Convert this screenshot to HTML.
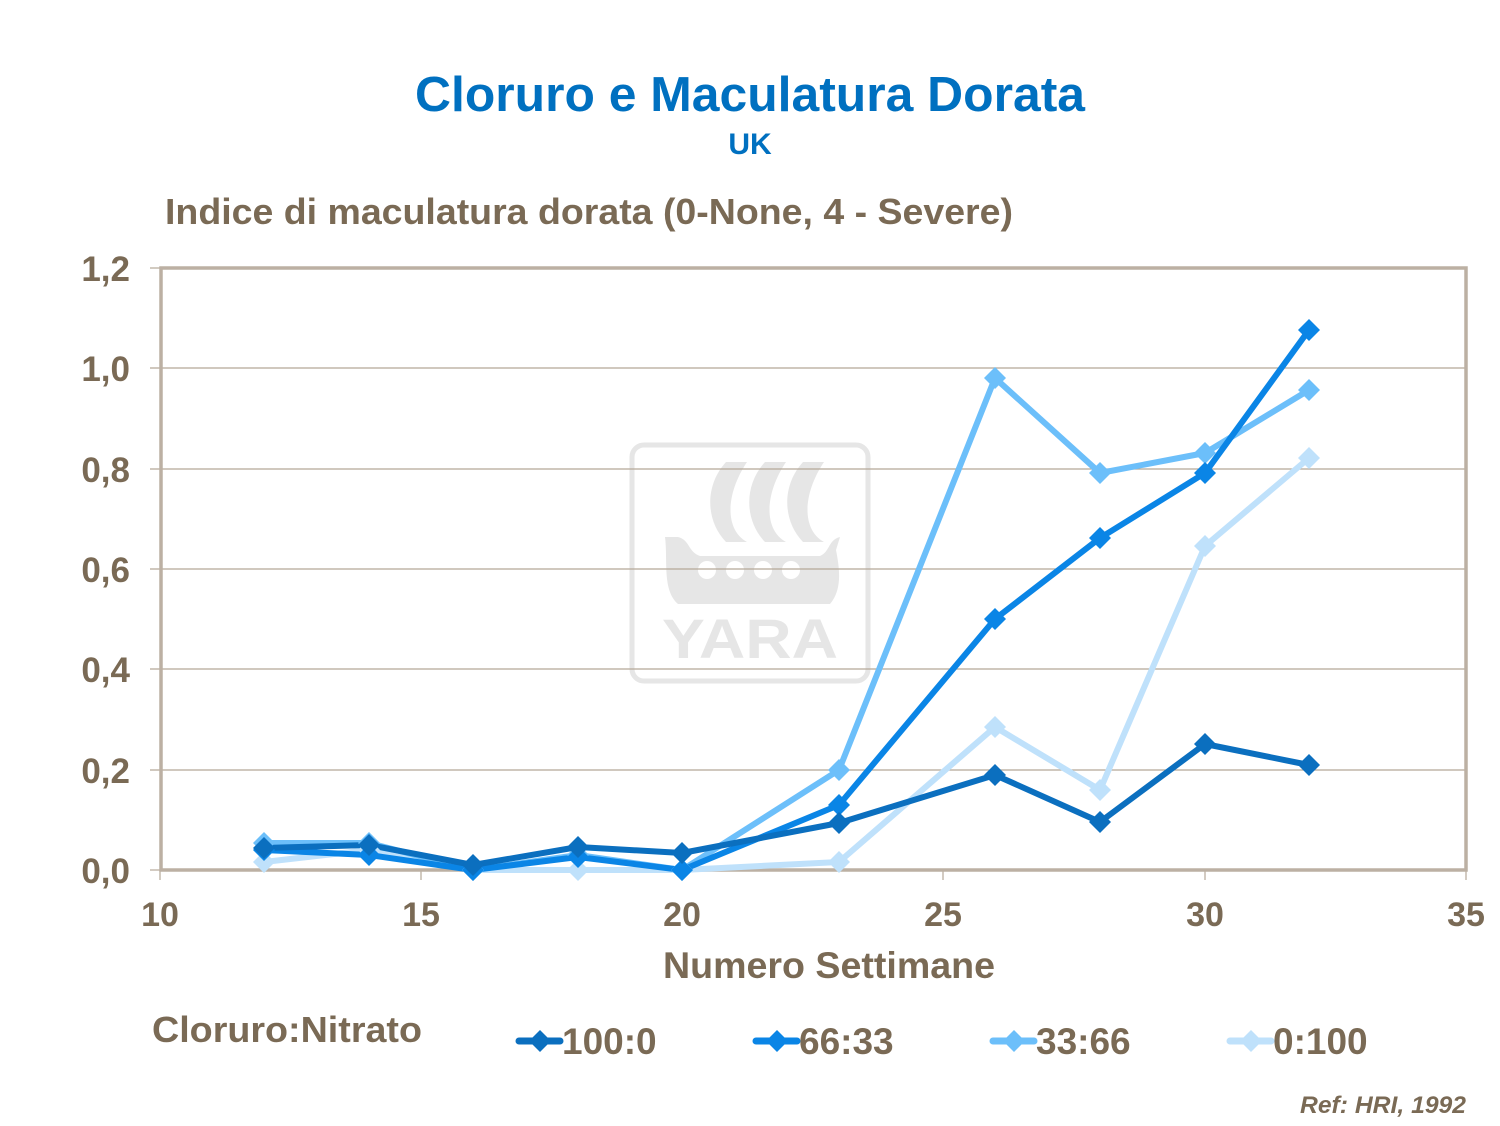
<!DOCTYPE html>
<html><head><meta charset="utf-8"><style>body{margin:0;background:#fff}svg{display:block}</style></head>
<body>
<svg width="1500" height="1126" viewBox="0 0 1500 1126" xmlns="http://www.w3.org/2000/svg" font-family="Liberation Sans, Arial, sans-serif" font-weight="bold">
<defs>
<path id="d" d="M0,-11 L11,0 L0,11 L-11,0 Z"/>
</defs>
<text x="415" y="111" font-size="49" fill="#0070c0" textLength="670" lengthAdjust="spacingAndGlyphs">Cloruro e Maculatura Dorata</text>
<text x="750" y="154" text-anchor="middle" font-size="30" fill="#0070c0">UK</text>
<text x="165" y="224" font-size="36" fill="#7a6a55" textLength="848" lengthAdjust="spacingAndGlyphs">Indice di maculatura dorata (0-None, 4 - Severe)</text>
<!-- watermark -->
<g fill="#e6e6e6">
<rect x="632" y="445" width="236" height="236" rx="12" fill="none" stroke="#e6e6e6" stroke-width="5"/>
<path d="M726,462 L747,462 C725,495 725,530 747,542 L726,542 C705,520 705,485 726,462 Z"/>
<path d="M765,462 L786,462 C764,495 764,530 786,542 L765,542 C744,520 744,485 765,462 Z"/>
<path d="M803,462 L824,462 C802,495 802,530 824,542 L803,542 C782,520 782,485 803,462 Z"/>
<path d="M665,537 L678,537 C690,540 688,552 700,556 L820,556 C830,552 828,540 840,537 L836,550 C840,570 842,590 830,604 L678,604 C662,590 668,560 665,537 Z"/>
<text x="662" y="658" font-size="56" fill="#e6e6e6" textLength="176" lengthAdjust="spacingAndGlyphs">YARA</text>
</g>
<g fill="#fff"><circle cx="707" cy="570" r="9"/><circle cx="735" cy="570" r="9"/><circle cx="763" cy="570" r="9"/><circle cx="791" cy="570" r="9"/></g>
<!-- grid -->
<g stroke="#b5a898" stroke-width="1.2">
<line x1="150" y1="368" x2="1466" y2="368"/><line x1="150" y1="469" x2="1466" y2="469"/>
<line x1="150" y1="569" x2="1466" y2="569"/><line x1="150" y1="669" x2="1466" y2="669"/>
<line x1="150" y1="770" x2="1466" y2="770"/><line x1="150" y1="268" x2="160" y2="268"/>
<line x1="150" y1="870" x2="160" y2="870"/>
<line x1="421" y1="870" x2="421" y2="880"/><line x1="682" y1="870" x2="682" y2="880"/>
<line x1="943" y1="870" x2="943" y2="880"/><line x1="1205" y1="870" x2="1205" y2="880"/>
<line x1="1466" y1="870" x2="1466" y2="880"/><line x1="160" y1="870" x2="160" y2="880"/>
</g>
<rect x="161" y="268" width="1305" height="602" fill="none" stroke="#bcb0a3" stroke-width="3.5"/>
<g font-size="35" fill="#7a6a55" text-anchor="end">
<text x="130" y="281">1,2</text><text x="130" y="381">1,0</text><text x="130" y="482">0,8</text>
<text x="130" y="582">0,6</text><text x="130" y="682">0,4</text><text x="130" y="783">0,2</text><text x="130" y="883">0,0</text>
</g>
<g font-size="34" fill="#7a6a55" text-anchor="middle">
<text x="160" y="926">10</text><text x="421" y="926">15</text><text x="682" y="926">20</text>
<text x="943" y="926">25</text><text x="1205" y="926">30</text><text x="1466" y="926">35</text>
</g>
<text x="663" y="978" font-size="37" fill="#7a6a55" textLength="332" lengthAdjust="spacingAndGlyphs">Numero Settimane</text>
<!-- series -->
<g fill="none" stroke-width="6" stroke-linejoin="round">
<polyline stroke="#bfe1fb" points="264,862 369,850 473,870 578,870 682,870 839,862 995,727 1100,790 1205,546 1309,458"/>
<polyline stroke="#6cbffa" points="264,843 369,843 473,870 578,855 682,870 839,770 995,378 1100,473 1205,453 1309,390"/>
<polyline stroke="#0a85e6" points="264,850 369,855 473,870 578,857 682,870 839,805 995,619 1100,538 1205,473 1309,330"/>
<polyline stroke="#0b6fbf" points="264,848 369,845 473,865 578,847 682,853 839,823 995,775 1100,822 1205,744 1309,765"/>
</g>
<g fill="#bfe1fb"><use href="#d" x="264" y="862"/><use href="#d" x="369" y="850"/><use href="#d" x="473" y="870"/><use href="#d" x="578" y="870"/><use href="#d" x="682" y="870"/><use href="#d" x="839" y="862"/><use href="#d" x="995" y="727"/><use href="#d" x="1100" y="790"/><use href="#d" x="1205" y="546"/><use href="#d" x="1309" y="458"/></g>
<g fill="#6cbffa"><use href="#d" x="264" y="843"/><use href="#d" x="369" y="843"/><use href="#d" x="473" y="870"/><use href="#d" x="578" y="855"/><use href="#d" x="682" y="870"/><use href="#d" x="839" y="770"/><use href="#d" x="995" y="378"/><use href="#d" x="1100" y="473"/><use href="#d" x="1205" y="453"/><use href="#d" x="1309" y="390"/></g>
<g fill="#0a85e6"><use href="#d" x="264" y="850"/><use href="#d" x="369" y="855"/><use href="#d" x="473" y="870"/><use href="#d" x="578" y="857"/><use href="#d" x="682" y="870"/><use href="#d" x="839" y="805"/><use href="#d" x="995" y="619"/><use href="#d" x="1100" y="538"/><use href="#d" x="1205" y="473"/><use href="#d" x="1309" y="330"/></g>
<g fill="#0b6fbf"><use href="#d" x="264" y="848"/><use href="#d" x="369" y="845"/><use href="#d" x="473" y="865"/><use href="#d" x="578" y="847"/><use href="#d" x="682" y="853"/><use href="#d" x="839" y="823"/><use href="#d" x="995" y="775"/><use href="#d" x="1100" y="822"/><use href="#d" x="1205" y="744"/><use href="#d" x="1309" y="765"/></g>
<!-- legend -->
<text x="152" y="1042" font-size="36" fill="#7a6a55" textLength="270" lengthAdjust="spacingAndGlyphs">Cloruro:Nitrato</text>
<g stroke-width="7" stroke-linecap="round">
<line x1="519" y1="1041" x2="560" y2="1041" stroke="#0b6fbf"/>
<line x1="756" y1="1041" x2="797" y2="1041" stroke="#0a85e6"/>
<line x1="993" y1="1041" x2="1034" y2="1041" stroke="#6cbffa"/>
<line x1="1230" y1="1041" x2="1271" y2="1041" stroke="#bfe1fb"/>
</g>
<use href="#d" x="540" y="1041" fill="#0b6fbf"/><use href="#d" x="777" y="1041" fill="#0a85e6"/>
<use href="#d" x="1014" y="1041" fill="#6cbffa"/><use href="#d" x="1251" y="1041" fill="#bfe1fb"/>
<g font-size="37" fill="#7a6a55">
<text x="562" y="1054">100:0</text><text x="799" y="1054">66:33</text>
<text x="1036" y="1054">33:66</text><text x="1273" y="1054">0:100</text>
</g>
<text x="1300" y="1113" font-size="24" font-style="italic" fill="#7a6a55" textLength="166" lengthAdjust="spacingAndGlyphs">Ref: HRI, 1992</text>
</svg>
</body></html>
